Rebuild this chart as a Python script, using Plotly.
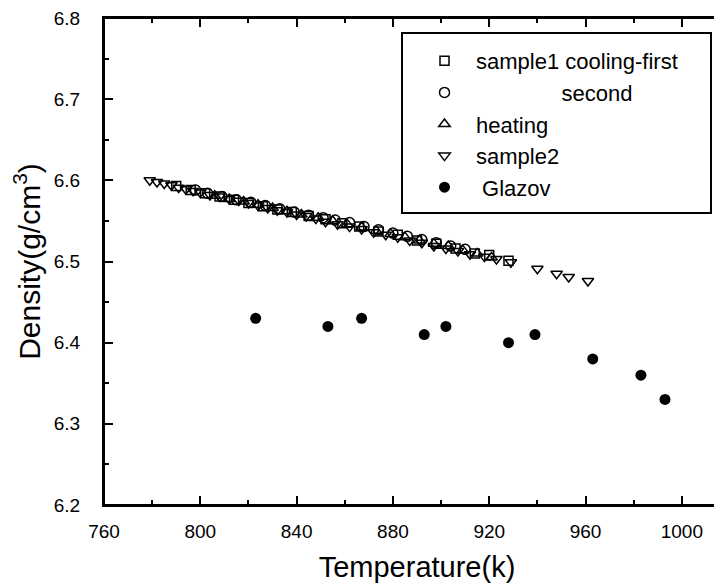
import plotly.graph_objects as go

# ---- data ----
cool_T = [790, 796, 802, 808, 814, 820, 826, 832, 838, 845, 852, 859, 866, 874, 882, 890, 898, 906, 914, 920, 928]
cool_D = [6.593, 6.588, 6.584, 6.580, 6.576, 6.572, 6.568, 6.564, 6.561, 6.556, 6.552, 6.547, 6.543, 6.537,
          6.533, 6.526, 6.522, 6.516, 6.510, 6.508, 6.501]

second_T = [798, 803, 809, 815, 821, 827, 833, 839, 845, 851, 856, 862, 868, 874, 880, 886, 892, 898, 904, 910]
second_D = [6.588, 6.584, 6.580, 6.576, 6.573, 6.569, 6.565, 6.561, 6.557, 6.554, 6.551, 6.548, 6.543, 6.539,
            6.535, 6.531, 6.527, 6.523, 6.519, 6.515]

heat_T = [806, 812, 818, 824, 830, 836, 842, 849, 855, 861, 867, 873, 879, 885, 891, 897, 903, 909, 915, 921]
heat_D = [6.581, 6.577, 6.574, 6.570, 6.566, 6.562, 6.558, 6.554, 6.550, 6.546, 6.542, 6.538, 6.534, 6.530,
          6.526, 6.522, 6.519, 6.514, 6.510, 6.505]

s2_T = [779, 782, 785, 788, 791, 794, 797, 800, 804, 808, 812, 816, 820, 824, 828, 832, 836, 840, 844, 848,
        852, 857, 862, 867, 872, 877, 882, 887, 892, 897, 902, 907, 912, 918, 923, 929, 940, 948, 953, 961]
s2_D = [6.600, 6.598, 6.596, 6.594, 6.591, 6.589, 6.587, 6.585, 6.582, 6.580, 6.577, 6.575, 6.572, 6.569,
        6.566, 6.563, 6.561, 6.558, 6.556, 6.553, 6.549, 6.546, 6.543, 6.540, 6.536, 6.533, 6.530, 6.526,
        6.523, 6.519, 6.516, 6.513, 6.509, 6.506, 6.503, 6.499, 6.491, 6.485, 6.481, 6.476]

glazov_T = [823, 853, 867, 893, 902, 928, 939, 963, 983, 993]
glazov_D = [6.43, 6.42, 6.43, 6.41, 6.42, 6.40, 6.41, 6.38, 6.36, 6.33]

x_ticks = [760, 800, 840, 880, 920, 960, 1000]
y_ticks = [6.2, 6.3, 6.4, 6.5, 6.6, 6.7, 6.8]
y_ticklabels = ["6.2", "6.3", "6.4", "6.5", "6.6", "6.7", "6.8"]

names = ["sample1 cooling-first", "\u00a0" * 14 + "second", "heating", "sample2", "\u00a0Glazov"]

FONT = "Liberation Sans, Arial, sans-serif"

# page body has an 8px margin; plot area spans screen x 104..730, y 18..505
L, T_, W, H = 96, 10, 722, 587
PW = W - L           # plot width in px
PH = 497 - T_        # plot height in px

fig = go.Figure()

def open_marker(symbol, size=10):
    return dict(symbol=symbol, size=size, color="black",
                line=dict(color="black", width=1.5))

series = [
    (cool_T, cool_D, open_marker("square-open", 9)),
    (second_T, second_D, open_marker("circle-open", 10)),
    (heat_T, heat_D, open_marker("triangle-up-open", 10)),
    (s2_T, s2_D, open_marker("triangle-down-open", 10)),
    (glazov_T, glazov_D, dict(symbol="circle", size=11, color="black")),
]
for i, ((xs, ys, mk), nm) in enumerate(zip(series, names)):
    fig.add_trace(go.Scatter(x=xs, y=ys, mode="markers", name=nm, marker=mk,
                             legendgroup=f"g{i}"))

frame = dict(type="line", xref="paper", yref="paper", layer="above",
             line=dict(color="black", width=2))

fig.update_layout(
    width=W, height=H,
    margin=dict(l=L, r=0, t=T_, b=H - 497, autoexpand=False),
    plot_bgcolor="white", paper_bgcolor="white",
    font=dict(family=FONT, color="black"),
    showlegend=True,
    legend=dict(
        x=(413 - 104) / PW, y=(505 - 40) / PH, xanchor="left", yanchor="top",
        bgcolor="rgba(0,0,0,0)", borderwidth=0,
        font=dict(family=FONT, size=22, color="black"),
        itemwidth=53, tracegroupgap=0, traceorder="grouped",
    ),
    shapes=[
        dict(type="rect", xref="paper", yref="paper",
             x0=(402 - 104) / PW, x1=(711 - 104) / PW,
             y0=(505 - 213) / PH, y1=(505 - 33) / PH,
             line=dict(color="black", width=2), fillcolor="rgba(0,0,0,0)"),
        dict(frame, x0=0, x1=0, y0=0, y1=1),
        dict(frame, x0=0, x1=1, y0=0, y1=0),
        dict(frame, x0=0, x1=1, y0=1, y1=1),
    ],
)

fig.update_xaxes(
    range=[760, 1020],
    tickmode="array", tickvals=x_ticks,
    ticks="inside", ticklen=9, tickwidth=1.5, tickcolor="black",
    minor=dict(ticks="inside", dtick=20, ticklen=5, tickwidth=1.5, tickcolor="black"),
    showline=True, linecolor="black", linewidth=2, mirror="ticks",
    showgrid=False, zeroline=False, automargin=False,
    ticklabeloverflow="allow",
    tickfont=dict(family=FONT, size=19, color="black"),
    ticklabelstandoff=8,
    title=dict(text="Temperature(k)", font=dict(family=FONT, size=29, color="black"), standoff=16),
)
fig.update_yaxes(
    range=[6.2, 6.8],
    tickmode="array", tickvals=y_ticks, ticktext=y_ticklabels,
    ticks="inside", ticklen=9, tickwidth=1.5, tickcolor="black",
    minor=dict(ticks="inside", dtick=0.05, ticklen=5, tickwidth=1.5, tickcolor="black"),
    showline=True, linecolor="black", linewidth=2, mirror=False,
    showgrid=False, zeroline=False, automargin=False,
    ticklabeloverflow="allow",
    tickfont=dict(family=FONT, size=19, color="black"),
    ticklabelstandoff=18,
    title=dict(text="Density(g/cm<sup>3</sup>)", font=dict(family=FONT, size=30, color="black"), standoff=8),
)

fig.write_html("out.html")
